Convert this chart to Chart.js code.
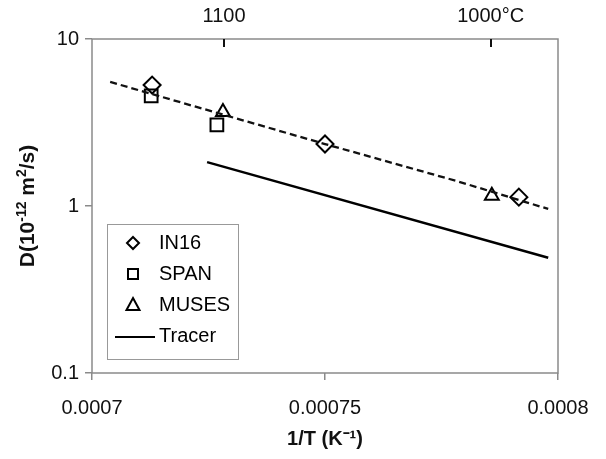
<!DOCTYPE html>
<html>
<head>
<meta charset="utf-8">
<script src="https://cdn.jsdelivr.net/npm/chart.js@4/dist/chart.umd.min.js"></script>
<style>
  html, body { margin: 0; padding: 0; background: #fff; }
  #wrap { width: 606px; height: 459px; }
</style>
</head>
<body>
<div id="wrap"><canvas id="diffChart" width="606" height="459"></canvas></div>
<script>
// values
var in16X = [0.0007129, 0.0007500, 0.0007916];
var in16Y = [5.30, 2.35, 1.13];
var spanX = [0.0007127, 0.0007268];
var spanY = [4.56, 3.06];
var musesX = [0.0007281, 0.0007858];
var musesY = [3.66, 1.15];
var tracerX = [0.0007247, 0.0007979];
var tracerY = [1.83, 0.49];
var fitX = [0.0007039, 0.0007500, 0.0007783, 0.0007979];
var fitY = [5.53, 2.35, 1.41, 0.96];

var xTickValues = [0.0007, 0.00075, 0.0008];
var xTickLabels = ["0.0007", "0.00075", "0.0008"];
var yTickValues = [0.1, 1, 10];
var yTickLabels = ["0.1", "1", "10"];
var topTempsC = [1100, 1000];
var topTickLabels = ["1100", "1000\u00B0C"];

// y title pieces: [text, superscript?]
var yTitleParts = [["D(10", false], ["-12", true], [" m", false], ["2", true], ["/s)", false]];

function pts(xs, ys) {
    var out = [];
    for (var i in xs) {
        out.push({ x: xs[i], y: ys[i] });
    }
    return out;
}

var FONT = "'Liberation Sans', Arial, sans-serif";

// frame, inward top ticks, y title with superscripts and the boxed legend
var decorPlugin = {
    id: 'decor',
    afterDraw: function(chart) {
        var ctx = chart.ctx;
        var a = chart.chartArea;
        ctx.save();
        ctx.strokeStyle = '#8a8a8a';
        ctx.lineWidth = 1.5;
        ctx.strokeRect(a.left, a.top, a.right - a.left, a.bottom - a.top);

        var top = chart.scales.x2;
        ctx.strokeStyle = '#111';
        ctx.lineWidth = 2;
        top.ticks.forEach(function(t) {
            var px = Math.round(top.getPixelForValue(t.value));
            ctx.beginPath();
            ctx.moveTo(px, a.top);
            ctx.lineTo(px, a.top + 8);
            ctx.stroke();
        });

        // y title
        var big = 'bold 21px ' + FONT, small = 'bold 14px ' + FONT;
        var total = 0;
        yTitleParts.forEach(function(p) {
            ctx.font = p[1] ? small : big;
            total += ctx.measureText(p[0]).width;
        });
        ctx.save();
        ctx.translate(27, (a.top + a.bottom) / 2);
        ctx.rotate(-Math.PI / 2);
        ctx.fillStyle = '#111';
        ctx.textBaseline = 'alphabetic';
        ctx.textAlign = 'left';
        var cx = -total / 2;
        yTitleParts.forEach(function(p) {
            ctx.font = p[1] ? small : big;
            ctx.fillText(p[0], cx, p[1] ? -1 : 7);
            cx += ctx.measureText(p[0]).width;
        });
        ctx.restore();

        // legend
        var bx = a.left + 15, by = a.top + 185, bw = 131, bh = 135;
        ctx.fillStyle = '#fff';
        ctx.fillRect(bx, by, bw, bh);
        ctx.strokeStyle = '#999';
        ctx.lineWidth = 1;
        ctx.strokeRect(bx + 0.5, by + 0.5, bw, bh);

        var rowY = by + 19;
        ctx.font = '20px ' + FONT;
        ctx.textBaseline = 'middle';
        ctx.textAlign = 'left';
        chart.data.datasets.forEach(function(ds) {
            if (!ds.inLegend) return;
            var mx = bx + 26;
            ctx.strokeStyle = '#000';
            ctx.fillStyle = '#000';
            ctx.lineWidth = 2;
            ctx.beginPath();
            if (ds.pointStyle === 'rectRot') {
                ctx.moveTo(mx, rowY - 6); ctx.lineTo(mx + 6, rowY);
                ctx.lineTo(mx, rowY + 6); ctx.lineTo(mx - 6, rowY);
                ctx.closePath();
            } else if (ds.pointStyle === 'rect') {
                ctx.rect(mx - 5, rowY - 5, 10, 10);
            } else if (ds.pointStyle === 'triangle') {
                ctx.moveTo(mx, rowY - 7); ctx.lineTo(mx + 6.5, rowY + 5);
                ctx.lineTo(mx - 6.5, rowY + 5);
                ctx.closePath();
            } else {
                ctx.moveTo(bx + 8, rowY + 1); ctx.lineTo(bx + 48, rowY + 1);
            }
            ctx.stroke();
            ctx.fillText(ds.label, bx + 52, rowY);
            rowY += 31;
        });
        ctx.restore();
    }
};

var markerBase = {
    showLine: false,
    backgroundColor: 'rgba(0,0,0,0)',
    borderColor: '#000',
    pointBorderWidth: 2,
    inLegend: true
};

var options = {
    type: 'scatter',
    data: {
        datasets: [
            {
                label: 'fit',
                data: pts(fitX, fitY),
                showLine: true,
                borderColor: '#111',
                borderWidth: 2.3,
                borderDash: [7, 4],
                pointRadius: 0,
                inLegend: false
            },
            Object.assign({}, markerBase, {
                label: 'IN16',
                data: pts(in16X, in16Y),
                pointStyle: 'rectRot',
                pointRadius: 8.5
            }),
            Object.assign({}, markerBase, {
                label: 'SPAN',
                data: pts(spanX, spanY),
                pointStyle: 'rect',
                pointRadius: 9
            }),
            Object.assign({}, markerBase, {
                label: 'MUSES',
                data: pts(musesX, musesY),
                pointStyle: 'triangle',
                pointRadius: 8
            }),
            {
                label: 'Tracer',
                data: pts(tracerX, tracerY),
                showLine: true,
                borderColor: '#000',
                borderWidth: 2.5,
                pointRadius: 0,
                inLegend: true
            }
        ]
    },
    options: {
        responsive: false,
        animation: false,
        layout: { padding: { left: 0, right: 48, top: 0, bottom: 0 } },
        plugins: {
            legend: { display: false },
            tooltip: { enabled: false }
        },
        scales: {
            x: {
                type: 'linear',
                position: 'bottom',
                min: 0.0007,
                max: 0.0008,
                afterBuildTicks: function(s) {
                    s.ticks = xTickValues.map(function(v) { return { value: v }; });
                },
                afterFit: function(s) { s.height = 86; },
                ticks: {
                    color: '#111',
                    font: { family: FONT, size: 20 },
                    padding: 16,
                    maxRotation: 0,
                    callback: function(v) {
                        var i = xTickValues.indexOf(v);
                        return i >= 0 ? xTickLabels[i] : '';
                    }
                },
                grid: { drawOnChartArea: false, color: '#8a8a8a', tickLength: 7, lineWidth: 1.5 },
                border: { display: false },
                title: {
                    display: true,
                    text: '1/T (K\u207B\u00B9)',
                    color: '#111',
                    font: { family: FONT, size: 20, weight: 'bold' },
                    padding: { top: 0, bottom: 8 }
                }
            },
            x2: {
                type: 'linear',
                position: 'top',
                min: 0.0007,
                max: 0.0008,
                afterBuildTicks: function(s) {
                    s.ticks = topTempsC.map(function(c) { return { value: 1 / (c + 273) }; });
                },
                afterFit: function(s) { s.height = 39; },
                ticks: {
                    color: '#111',
                    font: { family: FONT, size: 20 },
                    padding: 11,
                    maxRotation: 0,
                    callback: function(v, i) { return topTickLabels[i]; }
                },
                grid: { display: false, drawTicks: false },
                border: { display: false }
            },
            y: {
                type: 'logarithmic',
                min: 0.1,
                max: 10,
                afterBuildTicks: function(s) {
                    s.ticks = yTickValues.map(function(v) { return { value: v }; });
                },
                afterFit: function(s) { s.width = 92; },
                ticks: {
                    color: '#111',
                    font: { family: FONT, size: 20 },
                    padding: 6,
                    callback: function(v) {
                        var i = yTickValues.indexOf(v);
                        return i >= 0 ? yTickLabels[i] : '';
                    }
                },
                grid: { drawOnChartArea: false, color: '#8a8a8a', tickLength: 7, lineWidth: 1.5 },
                border: { display: false },
                title: { display: false }
            }
        }
    },
    plugins: [decorPlugin]
};

var diffChart = new Chart(document.getElementById('diffChart'), options);
</script>
</body>
</html>
